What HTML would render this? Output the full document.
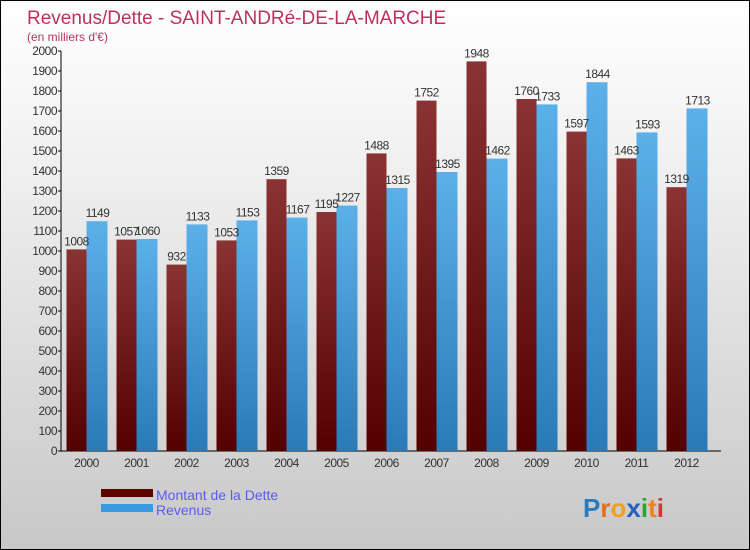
<!DOCTYPE html>
<html><head><meta charset="utf-8"><style>
body{margin:0}
#c{width:750px;height:550px;position:relative;box-sizing:border-box;border:1px solid #000;background:linear-gradient(#fff,#f0f0f0 30%,#c8c8c8);font-family:"Liberation Sans",sans-serif;overflow:hidden}
</style></head><body>
<div id="c">
<svg width="750" height="550" id="svg">
<defs>
<linearGradient id="gd" x1="0" y1="0" x2="0" y2="1"><stop offset="0" stop-color="#8a3334"/><stop offset="1" stop-color="#540000"/></linearGradient>
<linearGradient id="gr" x1="0" y1="0" x2="0" y2="1"><stop offset="0" stop-color="#5cb0e8"/><stop offset="1" stop-color="#2a7ab8"/></linearGradient>
</defs>
<text x="26" y="23" font-size="19" fill="#c0305e">Revenus/Dette - SAINT-ANDRé-DE-LA-MARCHE</text>
<text x="26" y="40" font-size="12" fill="#c0305e">(en milliers d'€)</text>
<g id="plot"></g>
<rect x="100" y="488" width="52" height="8" fill="#5a0000"/>
<rect x="100" y="503" width="52" height="8" fill="#3a9ae0"/>
<text x="155" y="499" font-size="14" fill="#5b5bf0">Montant de la Dette</text>
<text x="155" y="514" font-size="14" fill="#5b5bf0">Revenus</text>
<text x="582" y="516" font-size="26" font-weight="bold"><tspan fill="#2a7ac0">P</tspan><tspan fill="#e07020">r</tspan><tspan fill="#f0a020">o</tspan><tspan fill="#2060c0">x</tspan><tspan fill="#30a030">i</tspan><tspan fill="#f08020">t</tspan><tspan fill="#e03030">i</tspan></text>
</svg>
</div>
<script>
const years=["2000","2001","2002","2003","2004","2005","2006","2007","2008","2009","2010","2011","2012"];
const dette=[1008,1057,932,1053,1359,1195,1488,1752,1948,1760,1597,1463,1319];
const revenus=[1149,1060,1133,1153,1167,1227,1315,1395,1462,1733,1844,1593,1713];
const ticks=[0,100,200,300,400,500,600,700,800,900,1000,1100,1200,1300,1400,1500,1600,1700,1800,1900,2000];
const NS="http://www.w3.org/2000/svg";
const g=document.getElementById('plot');
const x0=60,x1=720,y0=450,y1=50,vmax=2000;
const y=v=>y0-(v/vmax)*(y0-y1);
const gw=(x1-x0-10)/years.length;
const cx=i=>x0+25+i*gw+0.5;
function mk(t,a){const e=document.createElementNS(NS,t);for(const k in a)e.setAttribute(k,a[k]);g.appendChild(e);return e;}
let e;
e=mk('line',{x1:x0,y1:y1,x2:x0,y2:y0,stroke:'#000'});


e=mk('line',{x1:x0,y1:y0,x2:x1,y2:y0,stroke:'#000'});


ticks.forEach(t=>{
 e=mk('line',{x1:x0-3,y1:y(t),x2:x0,y2:y(t),stroke:'#000'});
 
 
 e=mk('text',{x:x0-4,y:y(t)+4,'font-size':12,'text-anchor':'end',fill:'#333','letter-spacing':'-0.5'});
 e.textContent=t;
 
 
});
years.forEach((yr,i)=>{
 const c=cx(i);
 e=mk('rect',{x:c-20,y:y(dette[i]),width:20,height:y0-y(dette[i]),fill:'url(#gd)'});
 
 
 e=mk('rect',{x:c,y:y(revenus[i]),width:21,height:y0-y(revenus[i]),fill:'url(#gr)'});
 
 
 e=mk('text',{x:c-10,y:y(dette[i])-4,'font-size':12,'text-anchor':'middle',fill:'#333','letter-spacing':'-0.5'});
 e.textContent=dette[i];
 
 
 e=mk('text',{x:c+11,y:y(revenus[i])-4,'font-size':12,'text-anchor':'middle',fill:'#333','letter-spacing':'-0.5'});
 e.textContent=revenus[i];
 
 
 e=mk('text',{x:c,y:466,'font-size':12,'text-anchor':'middle',fill:'#333','letter-spacing':'-0.5'});
 e.textContent=yr;
 
 
});
</script>
</body></html>
